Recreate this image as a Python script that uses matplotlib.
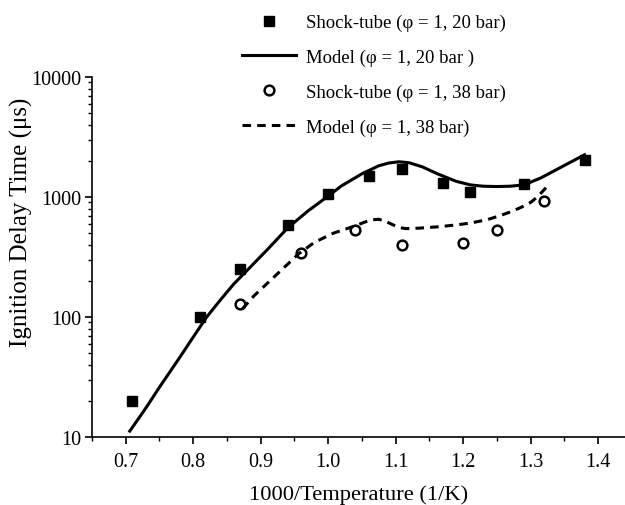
import numpy as np
import matplotlib
matplotlib.use("Agg")
import matplotlib.pyplot as plt
from matplotlib.ticker import FixedLocator, FixedFormatter, LogLocator, NullFormatter, MultipleLocator

plt.rcParams['font.family'] = ['Liberation Serif', 'DejaVu Serif']

# shock-tube data, 20 bar
x_st20 = [0.71, 0.81, 0.87, 0.94, 1.00, 1.06, 1.11, 1.17, 1.21, 1.29, 1.38]
y_st20 = [20, 100, 250, 580, 1060, 1510, 1720, 1310, 1110, 1280, 2030]

# shock-tube data, 38 bar
x_st38 = [0.87, 0.96, 1.04, 1.11, 1.20, 1.25, 1.32]
y_st38 = [129, 340, 527, 401, 414, 527, 930]

# model, 20 bar
x_m20 = [0.706, 0.73, 0.75, 0.78, 0.80, 0.82, 0.84, 0.86, 0.88, 0.91, 0.94,
         0.97, 1.00, 1.02, 1.05, 1.075, 1.09, 1.105, 1.12, 1.14, 1.162, 1.19,
         1.211, 1.23, 1.25, 1.27, 1.29, 1.315, 1.34, 1.36, 1.38]
y_m20 = [11.2, 17.5, 26, 46, 68, 100, 138, 188, 245, 365, 552,
         764, 1018, 1240, 1560, 1820, 1920, 1966, 1930, 1780, 1560, 1350,
         1261, 1230, 1222, 1230, 1261, 1440, 1709, 1960, 2248]

# model, 38 bar
x_m38 = [0.873, 0.89, 0.93, 0.956, 0.98, 1.008, 1.04, 1.055, 1.065, 1.075,
         1.085, 1.095, 1.105, 1.115, 1.135, 1.162, 1.19, 1.211, 1.235, 1.253,
         1.27, 1.286, 1.30, 1.31, 1.325]
y_m38 = [117, 150, 244, 335, 420, 500, 575, 620, 645, 652,
         628, 590, 558, 545, 550, 564, 585, 607, 645, 694,
         750, 820, 900, 1000, 1230]

fig = plt.figure(figsize=(6.25, 5.06), dpi=100)
ax = fig.add_axes([92 / 625, 68 / 506, 533 / 625, 360 / 506])

ax.plot(x_st20, y_st20, 's', color='black', markersize=7.5, linestyle='none',
        label='Shock-tube (φ = 1, 20 bar)')
ax.plot(x_m20, y_m20, '-', color='black', linewidth=2.2,
        label='Model (φ = 1, 20 bar )')
ax.plot(x_st38, y_st38, 'o', color='black', markerfacecolor='white', markersize=7,
        markeredgewidth=1.8, linestyle='none', label='Shock-tube (φ = 1, 38 bar)')
ax.plot(x_m38, y_m38, color='black', linewidth=2.2, dashes=(2.8, 2.0),
        label='Model (φ = 1, 38 bar)')

ax.set_yscale('log')
ax.set_ylim(10, 10000)
ax.set_xlim(0.65, 1.44)

ax.xaxis.set_major_locator(FixedLocator([0.7, 0.8, 0.9, 1.0, 1.1, 1.2, 1.3, 1.4]))
ax.xaxis.set_major_formatter(FixedFormatter(['0.7', '0.8', '0.9', '1.0', '1.1', '1.2', '1.3', '1.4']))
ax.xaxis.set_minor_locator(MultipleLocator(0.05))
ax.yaxis.set_major_locator(FixedLocator([10, 100, 1000, 10000]))
ax.yaxis.set_major_formatter(FixedFormatter(['10', '100', '1000', '10000']))
ax.yaxis.set_minor_locator(LogLocator(base=10, subs=np.arange(2, 10)))
ax.yaxis.set_minor_formatter(NullFormatter())

for s in ['top', 'right']:
    ax.spines[s].set_visible(False)
for s in ['left', 'bottom']:
    ax.spines[s].set_linewidth(1.2)

ax.tick_params(which='major', direction='out', length=5, width=1.2, labelsize=14.5)
ax.tick_params(which='minor', direction='out', length=3, width=1.0)
ax.tick_params(axis='x', pad=6)
ax.tick_params(axis='y', pad=3)

ax.set_xlabel('1000/Temperature (1/K)', fontsize=16.2, labelpad=9)
ax.set_ylabel('Ignition Delay Time (μs)', fontsize=18)
ax.yaxis.set_label_coords(-0.111, 0.6)

ax.legend(loc='upper left', bbox_to_anchor=(242 / 625, 1 - 15 / 506),
          bbox_transform=fig.transFigure, frameon=False, fontsize=13.5,
          borderpad=0, borderaxespad=0, handlelength=2.9, handletextpad=0.5,
          labelspacing=0.93, numpoints=1)

fig.savefig('out.png', dpi=100)
